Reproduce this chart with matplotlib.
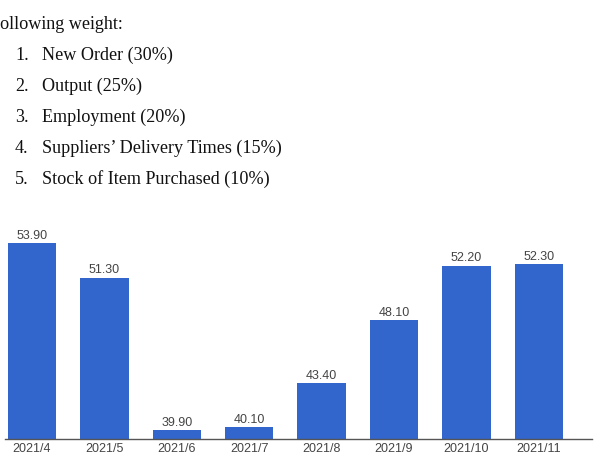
import matplotlib
matplotlib.use("Agg")
import matplotlib.pyplot as plt

months = ["2021/4", "2021/5", "2021/6", "2021/7", "2021/8", "2021/9", "2021/10", "2021/11"]
pmi = [53.90, 51.30, 39.90, 40.10, 43.40, 48.10, 52.20, 52.30]

intro = "ollowing weight:"
items = ["New Order (30%)", "Output (25%)", "Employment (20%)",
         "Suppliers\u2019 Delivery Times (15%)", "Stock of Item Purchased (10%)"]

W, H = 595, 459
fig = plt.figure(figsize=(W / 100, H / 100), dpi=100)

# document text above the chart
serif = "Liberation Serif"
fig.text(0, 1 - 29 / H, intro, family=serif, fontsize=13.1, color="#111111", va="baseline")
for i, item in enumerate(items):
    y = 1 - (60 + i * 30.9) / H
    fig.text(15 / W, y, "%d." % (i + 1), family=serif, fontsize=13.1, color="#111111", va="baseline")
    fig.text(41.5 / W, y, item, family=serif, fontsize=13.1, color="#111111", va="baseline")

# bar chart
base_px, top_px = 439, 230
ax = fig.add_axes([5 / W, (H - base_px) / H, 587 / W, (base_px - top_px) / H])
x = list(range(len(months)))
ax.bar(x, pmi, width=0.67, color="#3366cc", bottom=0)
ymin = 39.23
ax.set_ylim(ymin, ymin + (base_px - top_px) / 13.36)
ax.set_xlim(-0.373, 7.735)

for xi, v in zip(x, pmi):
    ax.annotate("%.2f" % v, (xi, v), xytext=(0, 1), textcoords="offset points",
                ha="center", va="bottom", family="Liberation Sans", fontsize=9, color="#444444")

ax.set_xticks(x)
ax.set_xticklabels(months, family="Liberation Sans", fontsize=9, color="#444444")
ax.tick_params(axis="x", length=0, pad=3)
ax.set_yticks([])
for s in ["top", "right", "left"]:
    ax.spines[s].set_visible(False)
ax.spines["bottom"].set_color("#555555")
ax.spines["bottom"].set_linewidth(1)

fig.savefig("out.png", dpi=100)
